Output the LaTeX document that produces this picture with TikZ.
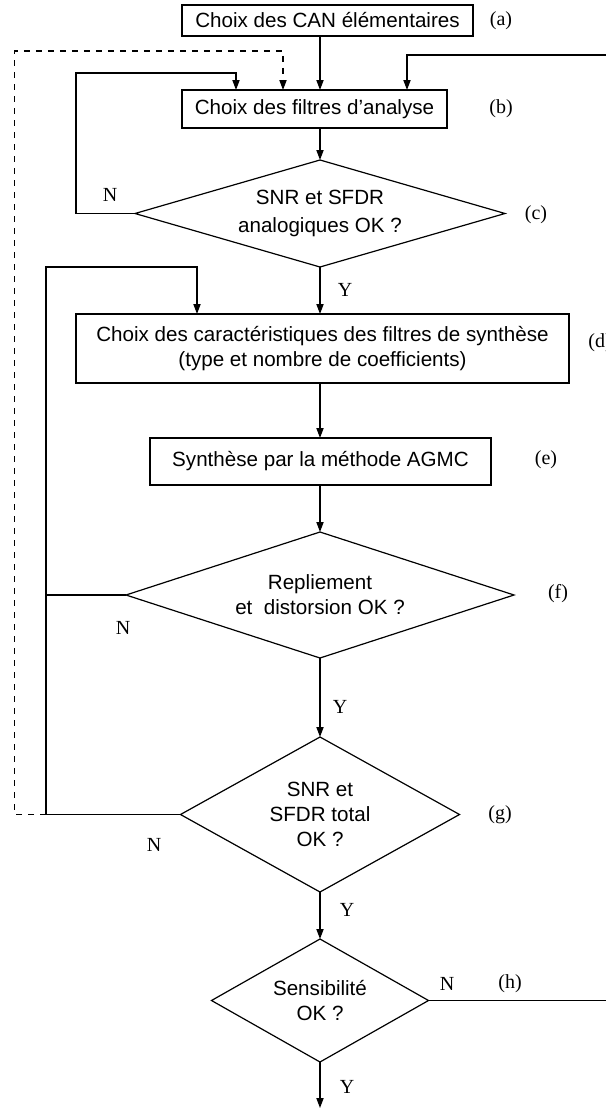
\documentclass[tikz,border=0pt]{standalone}
\usepackage{fontspec}
\setmainfont{Liberation Serif}
\newfontfamily\arialfam{Liberation Sans}
\usetikzlibrary{shapes.geometric,arrows.meta}
\newcommand\myboxfont{\arialfam\fontsize{10.3}{12.5}\selectfont}
\newcommand\mylabfont{\rmfamily\fontsize{10}{12}\selectfont}
\tikzset{
  box/.style={draw, line width=0.6pt, inner sep=0pt, outer sep=0pt, font=\myboxfont, align=center},
  dia/.style={diamond, draw, line width=0.6pt, inner sep=0pt, outer sep=0pt, font=\myboxfont, align=center},
  lab/.style={font=\mylabfont, inner sep=0pt},
  conn/.style={line width=0.6pt},
  arr/.style={line width=0.6pt, -{Triangle[length=5pt,width=3.6pt]}}
}
\begin{document}
\begin{tikzpicture}[x=0.5pt,y=-0.5pt]
\useasboundingbox (0,0) rectangle (605,1108);
\fill[white] (0,0) rectangle (605,1108);
% boxes
\node[box, minimum width=145.5pt, minimum height=15.5pt] (a) at (327.5,20.5) {Choix des CAN élémentaires};
\node[box, minimum width=132.5pt, minimum height=19pt] (b) at (314.5,109) {Choix des filtres d’analyse};
\node[dia, shape aspect=3.46, minimum width=185pt, minimum height=53.5pt] (c) at (320,213.5) {SNR et SFDR\\[1.5pt]analogiques OK ?};
\node[box, minimum width=246.5pt, minimum height=34.5pt] (d) at (322.5,348.5) {Choix des caractéristiques des filtres de synthèse\\(type et nombre de coefficients)};
\node[box, minimum width=170.5pt, minimum height=23.5pt] (e) at (320.5,461.5) {Synthèse par la méthode AGMC};
\node[dia, shape aspect=3.08, minimum width=194pt, minimum height=63pt] (f) at (320,595) {Repliement\\et~~distorsion OK ?};
\node[dia, shape aspect=1.8, minimum width=139.5pt, minimum height=77.5pt] (g) at (320,814.5) {SNR et\\SFDR total\\OK ?};
\node[dia, shape aspect=1.76, minimum width=108.5pt, minimum height=61.5pt] (h) at (320,1000.5) {Sensibilité\\OK ?};
% side labels
\node[lab] (la) at (501,21) {(a)};
\node[lab] (lb) at (501,109) {(b)};
\node[lab] (lc) at (536,215) {(c)};
\node[lab, anchor=west] (ld) at (588,343) {(d)};
\node[lab] (le) at (546,460) {(e)};
\node[lab] (lf) at (558,594) {(f)};
\node[lab] (lg) at (500,815) {(g)};
\node[lab] (lh) at (510,984) {(h)};
% N / Y labels
\node[lab] (n1) at (110,195) {N};
\node[lab] (n2) at (123,628) {N};
\node[lab] (n3) at (154,845) {N};
\node[lab] (n4) at (447,984) {N};
\node[lab] (y1) at (345,290) {Y};
\node[lab] (y2) at (340,707) {Y};
\node[lab] (y3) at (347,910) {Y};
\node[lab] (y4) at (347,1087) {Y};
% helper coordinates
\coordinate (cl) at (76,73);
\coordinate (xN) at (236,0);
\coordinate (lt) at (46,267);
\coordinate (xD) at (197,0);
\coordinate (dt) at (14.7,51);
\coordinate (xDash) at (283,0);
\coordinate (rt) at (614,55);
\coordinate (xR) at (407,0);
\coordinate (out) at (320,1108);
% main flow
\draw[arr] (a.south -| c.north) -- (b.north -| c.north);
\draw[arr] (b.south -| c.north) -- (c.north);
\draw[arr] (c.south) -- (d.north -| c.south);
\draw[arr] (d.south -| c.north) -- (e.north -| c.north);
\draw[arr] (e.south -| c.north) -- (f.north);
\draw[arr] (f.south) -- (g.north);
\draw[arr] (g.south) -- (h.north);
\draw[arr] (h.south) -- (out);
% loops
\draw[arr] (c.west) -| (cl) -| (b.north -| xN);
\draw[arr] (g.west) -| (lt) -| (d.north -| xD);
\draw[conn] (f.west) -- (f.west -| lt);
\draw[arr, dashed] (g.west -| lt) -| (dt) -| (b.north -| xDash);
\draw[arr] (h.east) -| (rt) -| (b.north -| xR);
\end{tikzpicture}
\end{document}
